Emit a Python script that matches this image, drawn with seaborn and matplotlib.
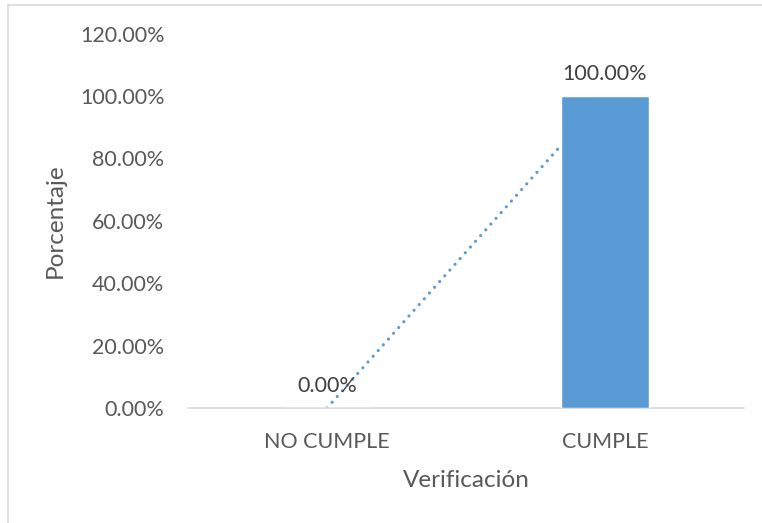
import matplotlib
matplotlib.use('Agg')
import matplotlib.pyplot as plt
from matplotlib.lines import Line2D
from matplotlib.ticker import PercentFormatter
import seaborn as sns
import pandas as pd

categorias = ['NO CUMPLE', 'CUMPLE']
porcentajes = [0.0, 1.0]
etiquetas = ['0.00%', '100.00%']
yticks = [0.0, 0.2, 0.4, 0.6, 0.8, 1.0, 1.2]

df = pd.DataFrame({'Verificación': categorias, 'Porcentaje': porcentajes})

sns.set_style('white')
plt.rcParams['font.family'] = ['Lato', 'DejaVu Sans']

gris = '#595959'
azul = '#5B9BD5'

fig = plt.figure(figsize=(7.62, 5.23), dpi=100)
ax = fig.add_axes([188/762, 1 - 408/523, (744-188)/762, (408-33.6)/523])

sns.barplot(data=df, x='Verificación', y='Porcentaje', color=azul,
            saturation=1, width=0.317, ax=ax, zorder=3)

# linea de tendencia lineal (punteada)
ax.plot(range(len(categorias)), porcentajes, linestyle=(0, (0.01, 2.4)),
        dash_capstyle='round', color=azul, lw=2.3, zorder=2)

for i, (v, t) in enumerate(zip(porcentajes, etiquetas)):
    ax.text(i, v + 0.04, t, ha='center', va='bottom', fontsize=15.5, color='#404040', zorder=4)

ax.set_xlim(-0.5, 1.5)
ax.set_ylim(0, 1.2)
ax.set_yticks(yticks)
ax.yaxis.set_major_formatter(PercentFormatter(1.0, decimals=2))
for s in ['top', 'right', 'left']:
    ax.spines[s].set_visible(False)
ax.spines['bottom'].set_color('#D9D9D9')
ax.spines['bottom'].set_linewidth(1.2)
ax.tick_params(axis='both', length=0, labelsize=15.5, labelcolor=gris)
ax.tick_params(axis='y', pad=17)
ax.tick_params(axis='x', pad=17)
ax.set_ylabel('Porcentaje', fontsize=17.5, color=gris, labelpad=10)
ax.set_xlabel('Verificación', fontsize=17.5, color=gris, labelpad=13)

# borde del grafico
x0 = 8/762
y0 = 1 - 5/523
fig.add_artist(Line2D([x0, x0], [0, y0], color='#D9D9D9', lw=1.2))
fig.add_artist(Line2D([x0, 1], [y0, y0], color='#D9D9D9', lw=1.2))

plt.savefig('out.png', dpi=100)
plt.close()
